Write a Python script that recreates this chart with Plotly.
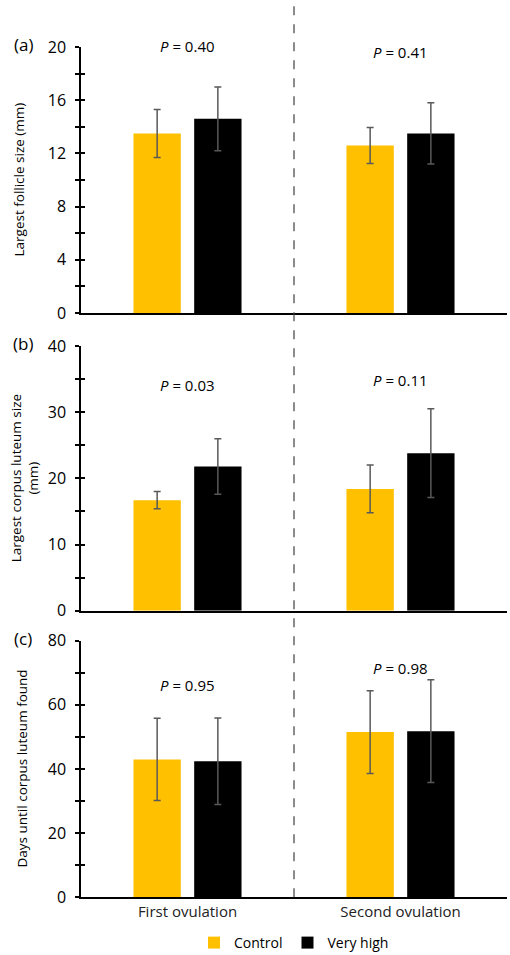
import plotly.graph_objects as go

categories = ["First ovulation", "Second ovulation"]
groups = ["Control", "Very high"]
colors = ["#FFC000", "#000000"]

# panel (a) largest follicle size (mm)
a_control = [13.5, 12.6]
a_control_err = [1.8, 1.35]
a_high = [14.6, 13.5]
a_high_err = [2.4, 2.3]
a_p = ["0.40", "0.41"]

# panel (b) largest corpus luteum size (mm)
b_control = [16.7, 18.4]
b_control_err = [1.3, 3.6]
b_high = [21.8, 23.8]
b_high_err = [4.2, 6.7]
b_p = ["0.03", "0.11"]

# panel (c) days until corpus luteum found
c_control = [43.0, 51.5]
c_control_err = [12.8, 12.9]
c_high = [42.4, 51.8]
c_high_err = [13.5, 16.0]
c_p = ["0.95", "0.98"]

panels = [
    dict(ctrl=a_control, ce=a_control_err, high=a_high, he=a_high_err, p=a_p,
         rng=[0, 20], dtick=4, title="Largest follicle size (mm)", label="(a)",
         p_y=[21.0, 20.5], title_x=18.5),
    dict(ctrl=b_control, ce=b_control_err, high=b_high, he=b_high_err, p=b_p,
         rng=[0, 40], dtick=10, title="Largest corpus luteum size<br>(mm)", label="(b)",
         p_y=[35.9, 36.7], title_x=25),
    dict(ctrl=c_control, ce=c_control_err, high=c_high, he=c_high_err, p=c_p,
         rng=[0, 80], dtick=20, title="Days until corpus luteum found", label="(c)",
         p_y=[69.9, 75.2], title_x=21.5),
]

W, H = 510, 955
def fy(px):
    return (H - px) / H

xdom = [81 / W, 507 / W]
ydoms = [[fy(313), fy(47)], [fy(610.7), fy(346)], [fy(897.3), fy(640.7)]]

FONT = "Open Sans"
fig = go.Figure()
ann = []
for i, pnl in enumerate(panels):
    xa = "x" if i == 0 else f"x{i+1}"
    ya = "y" if i == 0 else f"y{i+1}"
    for g, vals, errs, col in [(0, pnl["ctrl"], pnl["ce"], colors[0]),
                               (1, pnl["high"], pnl["he"], colors[1])]:
        fig.add_trace(go.Bar(
            x=categories, y=vals, name=groups[g], marker=dict(color=col, line=dict(width=0)),
            error_y=dict(type="data", array=errs, color="#595959", thickness=1.5, width=3.5),
            xaxis=xa, yaxis=ya, showlegend=(i == 0), legendgroup=groups[g],
        ))
    for k, cat in enumerate(categories):
        ann.append(dict(x=cat, y=pnl["p_y"][k] / pnl["rng"][1], xref=xa, yref=f"{ya} domain",
                        text=f"<i>P</i> = {pnl['p'][k]}", showarrow=False,
                        font=dict(size=15, color="black", family=FONT)))
    yc = (ydoms[i][0] + ydoms[i][1]) / 2
    ann.append(dict(x=pnl["title_x"] / W, y=yc, xref="paper", yref="paper", text=pnl["title"],
                    textangle=-90, showarrow=False, xanchor="center", yanchor="middle",
                    font=dict(size=13.5, color="black", family=FONT)))
    ann.append(dict(x=23 / W, y=ydoms[i][1] + 2 / H, xref="paper", yref="paper", text=pnl["label"],
                    showarrow=False, xanchor="center", yanchor="middle",
                    font=dict(size=17, color="black", family=FONT)))

    xkey = "xaxis" if i == 0 else f"xaxis{i+1}"
    ykey = "yaxis" if i == 0 else f"yaxis{i+1}"
    fig.update_layout(**{
        xkey: dict(domain=xdom, anchor=ya, type="category", showline=True, linecolor="black",
                   linewidth=1.5, ticks="", showgrid=False, showticklabels=(i == 2),
                   automargin=False, range=[-0.5, 1.5],
                   tickfont=dict(size=15, color="#222", family=FONT), fixedrange=True),
        ykey: dict(domain=ydoms[i], anchor=xa, range=pnl["rng"], dtick=pnl["dtick"], tick0=0,
                   showline=True, linecolor="black", linewidth=1.5, ticks="outside",
                   ticklen=4, tickwidth=1.5, tickcolor="black", showgrid=False, zeroline=False,
                   automargin=False,
                   minor=dict(ticks="outside", ticklen=4, tickwidth=1.5, tickcolor="black",
                              dtick=pnl["dtick"] / 2),
                   tickfont=dict(size=16, color="black", family=FONT), ticklabelstandoff=6),
    })
    okey = f"yaxis{i+4}"
    fig.update_layout(**{
        okey: dict(overlaying=ya, anchor=xa, range=pnl["rng"], dtick=pnl["dtick"], tick0=0,
                   side="left", showline=False, showgrid=False, zeroline=False,
                   showticklabels=False, ticks="inside", ticklen=4, tickwidth=1.5,
                   tickcolor="black", automargin=False,
                   minor=dict(ticks="inside", ticklen=4, tickwidth=1.5, tickcolor="black",
                              dtick=pnl["dtick"] / 2)),
    })
    fig.add_trace(go.Scatter(x=[categories[0]], y=[pnl["rng"][0]], xaxis=xa, yaxis=f"y{i+4}",
                             mode="markers", marker=dict(opacity=0), showlegend=False,
                             hoverinfo="skip"))

fig.add_shape(type="line", xref="x", x0=0.5, x1=0.5, yref="paper", y0=ydoms[2][0], y1=fy(3),
              line=dict(color="#404040", width=1.2, dash="dash"))

fig.update_layout(
    width=W, height=H, margin=dict(l=0, r=0, t=0, b=0, autoexpand=False),
    paper_bgcolor="white", plot_bgcolor="white",
    barmode="group", bargap=0.43, bargroupgap=0.22,
    annotations=ann,
    legend=dict(orientation="h", x=294 / W, xanchor="center", y=fy(943), yanchor="middle",
                font=dict(size=14, color="black", family=FONT), itemwidth=30,
                traceorder="normal"),
    font=dict(family=FONT, color="black"),
)

fig.write_html("out.html", config={"displayModeBar": False},
               post_script="document.body.style.margin='0';document.body.style.overflow='hidden';")
